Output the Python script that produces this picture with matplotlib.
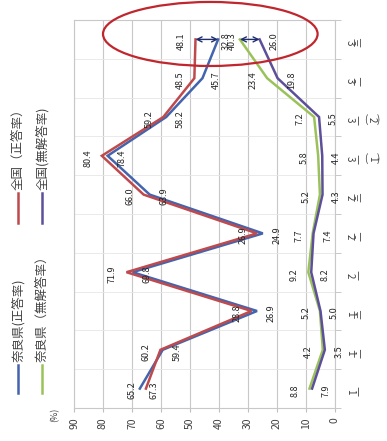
import matplotlib
matplotlib.use("Agg")
import matplotlib.pyplot as plt
from matplotlib.patches import Ellipse
from matplotlib.lines import Line2D
import numpy as np

plt.rcParams['font.family'] = ['Noto Sans CJK JP', 'DejaVu Sans']

# categories (bottom -> top in the rotated picture)
categories = ['1一', '1二', '1三', '2一', '2二', '2三', '3一(1)', '3一(2)', '3二', '3三']
nara_correct = [67.3, 59.4, 26.9, 69.8, 24.9, 63.9, 78.4, 58.2, 45.7, 40.3]
zenkoku_correct = [65.2, 60.2, 28.8, 71.9, 26.9, 66.0, 80.4, 59.2, 48.5, 48.1]
nara_noans = [8.8, 4.2, 5.2, 9.2, 7.7, 5.2, 5.8, 7.2, 23.4, 32.8]
zenkoku_noans = [7.9, 3.5, 5.0, 8.2, 7.4, 4.3, 4.4, 5.5, 19.8, 26.0]
value_ticks = [0, 10, 20, 30, 40, 50, 60, 70, 80, 90]
legend_names = ['奈良県(正答率)', '全国（正答率）', '奈良県（無解答率）', '全国(無解答率)']

c_blue = '#4464ad'
c_red = '#bf4a4d'
c_green = '#9bc25a'
c_purple = '#5e4f9a'

W, H = 387, 441
def fx(x):
    return x / W
def fy(y):
    return 1 - y / H

fig = plt.figure(figsize=(W / 100, H / 100), dpi=100)
ax = fig.add_axes([fx(74), fy(408), (335 - 74) / W, (408 - 20) / H])

pos = np.arange(len(categories))
series = [
    (nara_correct, c_blue, 14),
    (zenkoku_correct, c_red, -14),
    (nara_noans, c_green, -14),
    (zenkoku_noans, c_purple, 14),
]
for vals, col, off in series:
    ax.plot(vals, pos, color=col, lw=1.8, solid_joinstyle='miter', zorder=3)
    for v, p in zip(vals, pos):
        ax.annotate(f'{v:.1f}', xy=(v, p), xytext=(off, -2), textcoords='offset pixels',
                    rotation=90, ha='center', va='center', fontsize=6.5, color='#262626', zorder=4)

ax.set_xlim(90, 0)
ax.set_ylim(-0.5, len(categories) - 0.5)
ax.set_xticks(value_ticks)
ax.set_xticklabels([str(t) for t in value_ticks], rotation=90, fontsize=7.5, color='#404040')
ax.tick_params(axis='x', length=3, color='#bfbfbf', pad=4)
ax.grid(axis='x', color='#c8c8c8', lw=0.8)
ax.set_yticks([])
ax.set_yticks(np.arange(-0.5, len(categories)), minor=True)
ax.yaxis.tick_right()
ax.tick_params(axis='y', which='minor', length=4, color='#bfbfbf', direction='out')
ax.grid(axis='y', which='minor', color='#e6e6e6', lw=0.6)
ax.set_axisbelow(True)
for s in ax.spines.values():
    s.set_color('#c8c8c8')
    s.set_linewidth(0.8)

# category labels: vertical text of the original, turned with the chart
for p, lab in zip(pos, categories):
    x_off = 11
    for ch in lab:
        if ch in '()':
            w, rot = 5, 0
        elif ch in '一二三':
            w, rot = 9, 90
        else:
            w, rot = 8, -90
        ax.annotate(ch, xy=(1, p), xycoords=('axes fraction', 'data'),
                    xytext=(x_off + w / 2, -3), textcoords='offset pixels',
                    rotation=rot, ha='center', va='center', fontsize=7, color='#404040',
                    annotation_clip=False)
        x_off += w

# difference arrows at the last category
last = len(categories) - 1
for a, b in [(zenkoku_correct[last], nara_correct[last]), (nara_noans[last], zenkoku_noans[last])]:
    ax.annotate('', xy=(b, last), xytext=(a, last),
                arrowprops=dict(arrowstyle='<->', color='#1f2f6e', lw=1.0,
                                shrinkA=0, shrinkB=0, mutation_scale=9), zorder=5)

ax.add_patch(Ellipse((43, 9.14), width=74, height=1.65, fill=False, ec='#c0262d',
                     lw=1.6, clip_on=False, zorder=6))

# legend (rotated)
leg = [
    (18, 365, 393, c_blue, legend_names[0]),
    (18, 193, 223, c_red, legend_names[1]),
    (42, 365, 393, c_green, legend_names[2]),
    (42, 193, 223, c_purple, legend_names[3]),
]
for x, y0, y1, col, name in leg:
    fig.add_artist(Line2D([fx(x), fx(x)], [fy(y0), fy(y1)], color=col, lw=1.8,
                          transform=fig.transFigure))
    fig.text(fx(x), fy(y0 - 3), name, rotation=90, ha='center', va='bottom',
             fontsize=9, color='#404040')

fig.text(fx(55), fy(415), '(%)', rotation=90, ha='center', va='center', fontsize=6.5, color='#404040')

fig.savefig('out.png', dpi=100)
